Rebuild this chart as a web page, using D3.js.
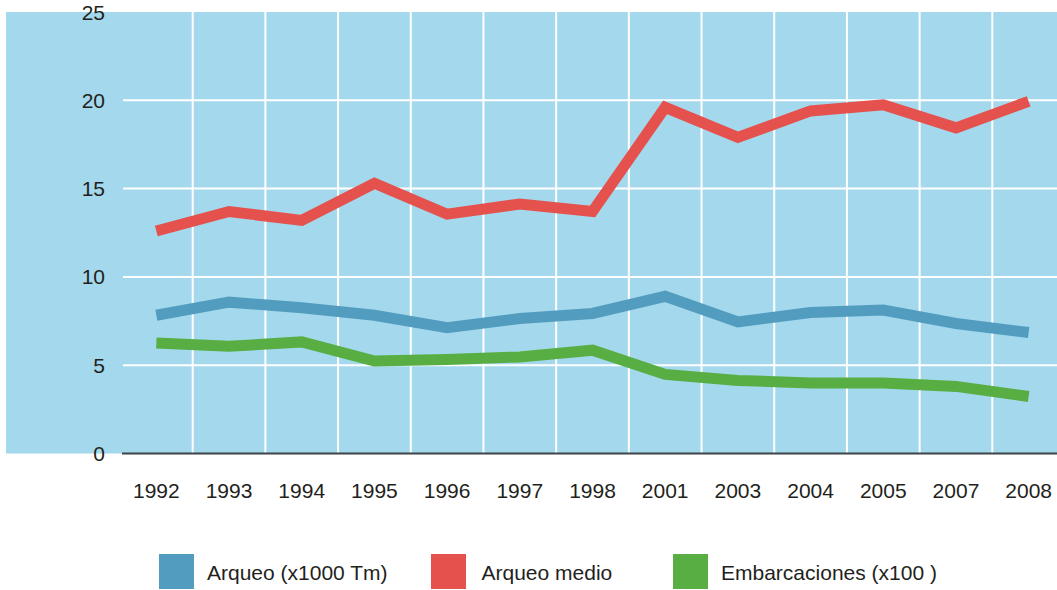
<!DOCTYPE html>
<html>
<head>
<meta charset="utf-8">
<script src="https://cdn.jsdelivr.net/npm/d3@7/dist/d3.min.js"></script>
<style>
  html, body { margin: 0; padding: 0; background: #ffffff; }
  svg { display: block; }
  text { font-family: "Liberation Sans", Arial, Helvetica, sans-serif; fill: #231f20; }
</style>
</head>
<body>
<svg id="chart" width="1057" height="590"></svg>
<script>
const years = ["1992","1993","1994","1995","1996","1997","1998","2001","2003","2004","2005","2007","2008"];
const arqueo = [7.83, 8.57, 8.25, 7.83, 7.13, 7.64, 7.93, 8.9, 7.45, 7.98, 8.12, 7.36, 6.85];
const arqueoMedio = [12.6, 13.7, 13.2, 15.3, 13.55, 14.13, 13.7, 19.6, 17.9, 19.4, 19.75, 18.44, 19.94];
const embarcaciones = [6.26, 6.07, 6.32, 5.24, 5.32, 5.47, 5.85, 4.48, 4.14, 3.99, 3.99, 3.8, 3.23];
const yTicks = [0, 5, 10, 15, 20, 25];
const seriesNames = ["Arqueo (x1000 Tm)", "Arqueo medio", "Embarcaciones (x100 )"];
const seriesColors = ["#529dbf", "#e5514c", "#58ae42"];

const svg = d3.select("#chart");
const W = 1057;
const x = d3.scaleBand().domain(years).range([120, 1065]);
const y = d3.scaleLinear().domain([0, 25]).range([453.5, 12]);

// background
svg.append("rect")
  .attr("x", 6).attr("y", y(25))
  .attr("width", W - 6).attr("height", y(0) - y(25))
  .attr("fill", "#a4d8ec");

// horizontal gridlines
svg.append("g").selectAll("line")
  .data(yTicks.filter(d => d > 0 && d < 25))
  .join("line")
  .attr("x1", 123).attr("x2", W)
  .attr("y1", d => y(d)).attr("y2", d => y(d))
  .attr("stroke", "#ffffff").attr("stroke-width", 2);

// vertical gridlines at band boundaries
svg.append("g").selectAll("line")
  .data(years.slice(1))
  .join("line")
  .attr("x1", d => x(d)).attr("x2", d => x(d))
  .attr("y1", y(25)).attr("y2", y(0))
  .attr("stroke", "#ffffff").attr("stroke-width", 2);

// baseline
svg.append("line")
  .attr("x1", 122).attr("x2", W)
  .attr("y1", y(0)).attr("y2", y(0))
  .attr("stroke", "#3d4347").attr("stroke-width", 2);

// y labels
svg.append("g").selectAll("text")
  .data(yTicks)
  .join("text")
  .attr("x", 105)
  .attr("y", d => y(d))
  .attr("dy", "0.36em")
  .attr("text-anchor", "end")
  .attr("font-size", 21)
  .text(d => d);

// x labels
svg.append("g").selectAll("text")
  .data(years)
  .join("text")
  .attr("x", d => x(d) + x.bandwidth() / 2)
  .attr("y", 498)
  .attr("text-anchor", "middle")
  .attr("font-size", 21)
  .text(d => d);

// lines
const line = d3.line()
  .x((d, i) => x(years[i]) + x.bandwidth() / 2)
  .y(d => y(d));

const allSeries = [arqueo, arqueoMedio, embarcaciones];
svg.append("g").selectAll("path")
  .data(allSeries)
  .join("path")
  .attr("d", d => line(d))
  .attr("fill", "none")
  .attr("stroke", (d, i) => seriesColors[i])
  .attr("stroke-width", 11)
  .attr("stroke-linejoin", "miter")
  .attr("stroke-linecap", "butt");

// legend
const legendX = [159, 431, 673];
const leg = svg.append("g").selectAll("g")
  .data(seriesNames)
  .join("g")
  .attr("transform", (d, i) => `translate(${legendX[i]},554)`);
leg.append("rect")
  .attr("width", 35).attr("height", 35)
  .attr("fill", (d, i) => seriesColors[i]);
leg.append("text")
  .attr("x", (d, i) => i === 2 ? 48 : (i === 1 ? 50.5 : 48))
  .attr("y", 25.5)
  .attr("font-size", 21)
  .text(d => d);
</script>
</body>
</html>
